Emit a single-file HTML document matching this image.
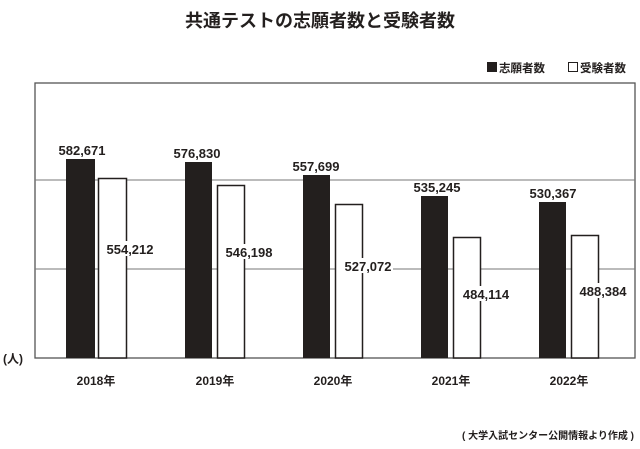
<!DOCTYPE html>
<html><head><meta charset="utf-8"><style>
body{margin:0;background:#fff;}
svg{display:block;font-family:"Liberation Sans","Noto Sans CJK JP",sans-serif;}
</style></head><body>
<svg width="640" height="449" viewBox="0 0 640 449">
<text x="320" y="27" text-anchor="middle" font-size="18" font-weight="bold" fill="#231f1e">共通テストの志願者数と受験者数</text>
<rect x="487" y="62" width="10" height="10" fill="#231f1e"/>
<text x="499" y="72" font-size="11.5" font-weight="bold" fill="#231f1e">志願者数</text>
<rect x="568.5" y="62.5" width="9" height="9" fill="#fff" stroke="#231f1e"/>
<text x="580" y="72" font-size="11.5" font-weight="bold" fill="#231f1e">受験者数</text>
<rect x="35" y="83" width="600" height="275" fill="none" stroke="#555" stroke-width="1.3"/>
<line x1="35" y1="180" x2="635" y2="180" stroke="#777"/>
<line x1="35" y1="269" x2="635" y2="269" stroke="#777"/>
<g fill="#231f1e">
<rect x="66" y="159" width="29" height="199"/>
<rect x="185" y="162" width="27" height="196"/>
<rect x="303" y="175" width="27" height="183"/>
<rect x="421" y="196" width="27" height="162"/>
<rect x="539" y="202" width="27" height="156"/>
</g>
<g fill="#fff" stroke="#231f1e" stroke-width="1.5">
<rect x="98.5" y="178.5" width="28" height="179.5"/>
<rect x="217.5" y="185.5" width="27" height="172.5"/>
<rect x="335.5" y="204.5" width="27" height="153.5"/>
<rect x="453.5" y="237.5" width="27" height="120.5"/>
<rect x="571.5" y="235.5" width="27" height="122.5"/>
</g>
<g font-size="13" font-weight="bold" fill="#231f1e" text-anchor="middle">
<text x="82" y="155">582,671</text>
<text x="197" y="158">576,830</text>
<text x="316" y="171">557,699</text>
<text x="437" y="192">535,245</text>
<text x="553" y="198">530,367</text>
<g>
<rect x="106" y="241" width="50" height="15" fill="#fff"/>
<rect x="225" y="244" width="50" height="15" fill="#fff"/>
<rect x="343" y="258" width="50" height="15" fill="#fff"/>
<rect x="461" y="286" width="50" height="15" fill="#fff"/>
<rect x="578" y="283" width="50" height="15" fill="#fff"/>
</g>
<text x="130" y="254">554,212</text>
<text x="249" y="257">546,198</text>
<text x="368" y="271">527,072</text>
<text x="486" y="299">484,114</text>
<text x="603" y="296">488,384</text>
</g>
<text x="3" y="363" font-size="12" font-weight="bold" fill="#231f1e">(人)</text>
<g font-size="12" font-weight="bold" fill="#231f1e" text-anchor="middle">
<text x="96" y="385">2018年</text>
<text x="215" y="385">2019年</text>
<text x="333" y="385">2020年</text>
<text x="451" y="385">2021年</text>
<text x="569" y="385">2022年</text>
</g>
<text x="634" y="439" text-anchor="end" font-size="10" font-weight="bold" fill="#231f1e">( 大学入試センター公開情報より作成 )</text>
</svg>
</body></html>
